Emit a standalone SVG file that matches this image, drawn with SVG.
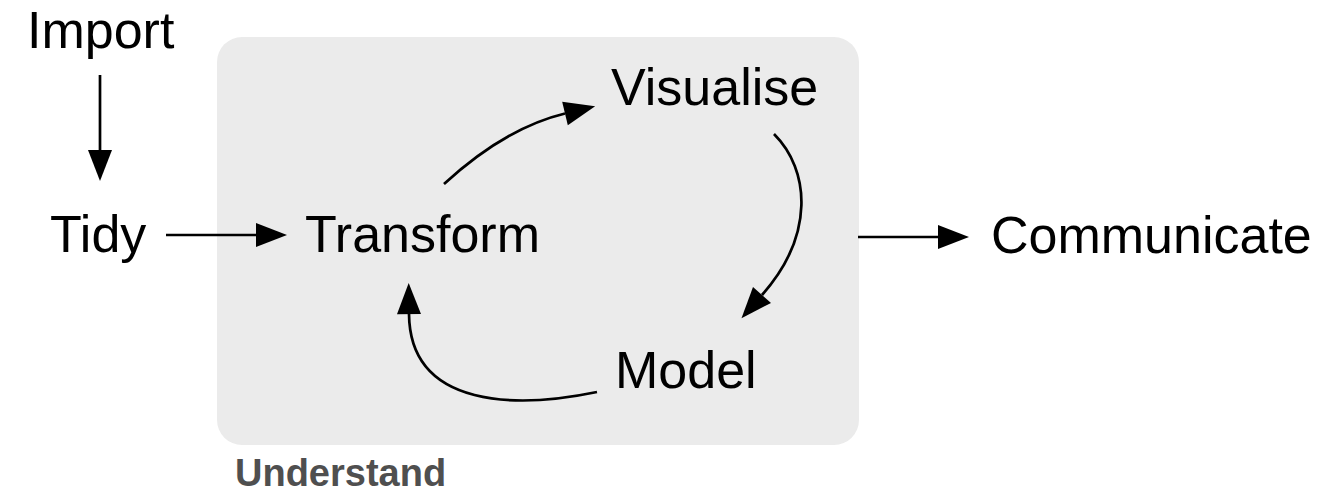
<svg xmlns="http://www.w3.org/2000/svg" width="1338" height="502" viewBox="0 0 1338 502">
  <style>
    .lbl { font-family: "Liberation Sans", Arial, Helvetica, sans-serif; font-size: 52px; fill: #000; }
    .grp { font-family: "Liberation Sans", Arial, Helvetica, sans-serif; font-size: 38px; font-weight: bold; fill: #4f4f4f; }
    .edge { fill: none; stroke: #000; stroke-width: 2.7; marker-end: url(#arrow); }
  </style>
  <defs>
    <marker id="arrow" markerUnits="userSpaceOnUse" markerWidth="32" markerHeight="26" refX="0" refY="12" orient="auto" overflow="visible">
      <path d="M0,0 L31,12 L0,24 Z" fill="#000"/>
    </marker>
  </defs>
  <rect width="1338" height="502" fill="#fff"/>

  <g id="understand">
    <rect x="217" y="37" width="642" height="408" rx="25" ry="25" fill="#ebebeb"/>
    <text class="grp" x="235" y="486">Understand</text>
  </g>

  <g id="import"><text class="lbl" x="27" y="48">Import</text></g>
  <g id="tidy"><text class="lbl" x="50" y="252">Tidy</text></g>
  <g id="transform"><text class="lbl" x="305" y="252">Transform</text></g>
  <g id="visualise"><text class="lbl" x="611" y="105">Visualise</text></g>
  <g id="model"><text class="lbl" x="615" y="388">Model</text></g>
  <g id="communicate"><text class="lbl" x="991" y="253">Communicate</text></g>

  <g id="connectors">
    <path class="edge" d="M100,75 L100,150"/>
    <path class="edge" d="M166,235 L256,235"/>
    <path class="edge" d="M444,184 Q505,128 565,113.5"/>
    <path class="edge" d="M774,134 C810,170 815,235 762,295"/>
    <path class="edge" d="M597,392 C520,408 410,410 409,314"/>
    <path class="edge" d="M858,237 L938,237"/>
  </g>
</svg>
